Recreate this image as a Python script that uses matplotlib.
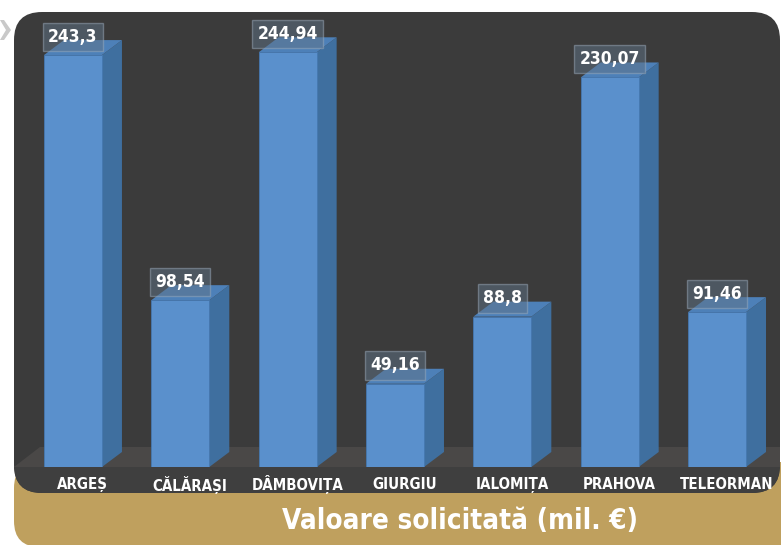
import numpy as np
import matplotlib.pyplot as plt
from matplotlib.patches import FancyBboxPatch, Polygon
from matplotlib import font_manager
import matplotlib.patheffects as pe

# Datele graficului
judete = ["ARGEȘ", "CĂLĂRAȘI", "DÂMBOVIȚA", "GIURGIU", "IALOMIȚA", "PRAHOVA", "TELEORMAN"]
valori = [243.3, 98.54, 244.94, 49.16, 88.8, 230.07, 91.46]
etichete = ["243,3", "98,54", "244,94", "49,16", "88,8", "230,07", "91,46"]
titlu = "Valoare solicitată (mil. €)"


def e_ingust(f):
    if "Mono" in f.name:
        return False
    return ("Narrow" in f.name or "Condensed" in f.name
            or f.stretch in ("condensed", "semi-condensed", "extra-condensed"))


def greutate(f):
    w = f.weight
    if isinstance(w, str):
        w = {"bold": 700, "semibold": 600, "heavy": 800, "black": 900}.get(w, 400)
    return w


# cautam un font ingust, de preferinta bold
ingusti = [f for f in font_manager.fontManager.ttflist if e_ingust(f)]
bold = [f for f in ingusti if greutate(f) >= 600]
ales = bold[0] if bold else (ingusti[0] if ingusti else None)
if ales is not None:
    prop = dict(fname=ales.fname)
    e_bold = greutate(ales) >= 600
else:
    prop = dict(family="DejaVu Sans", weight="bold")
    e_bold = True

# daca nu avem varianta bold, ingrosam cu un contur alb
efect = [] if e_bold else [pe.withStroke(linewidth=0.9, foreground="white")]


def fp(size):
    return font_manager.FontProperties(size=size, **prop)


W, H = 781, 545
fig = plt.figure(figsize=(W / 100, H / 100), dpi=100)
fig.patch.set_facecolor("white")

# fundal decorativ in pixeli
bg = fig.add_axes([0, 0, 1, 1])
bg.set_xlim(0, W)
bg.set_ylim(H, 0)
bg.axis("off")

bg.add_patch(FancyBboxPatch((14, 462), 820, 85, boxstyle="round,pad=0,rounding_size=26",
                            fc="#bfa05e", ec="none"))
panou = FancyBboxPatch((14, 12), 766, 481, boxstyle="round,pad=0,rounding_size=28",
                       fc="#3b3b3b", ec="none")
bg.add_patch(panou)
# podea
p1 = Polygon([(40, 447), (781, 447), (781, 467), (14, 467)], fc="#4a4847", ec="none")
p2 = Polygon([(14, 467), (781, 467), (781, 493), (14, 493)], fc="#3f3f3f", ec="none")
for p in (p1, p2):
    bg.add_patch(p)
    p.set_clip_path(panou)
# sageata mica sus-stanga
bg.add_patch(Polygon([(0, 20), (4, 20), (11, 30), (4, 40), (0, 40), (6, 30)], fc="#c9c9c9", ec="none"))

bg.text(460, 521, titlu, color="white", fontproperties=fp(20),
        ha="center", va="center", path_effects=efect)

# axa barelor: 0 la y=467px, 1.693 px pe unitate
left, right = 19.3, 770.7
ax = fig.add_axes([left / W, (H - 467) / H, (right - left) / W, 440.2 / H])
ax.set_xlim(-0.5, 6.5)
ax.set_ylim(0, 260)
ax.axis("off")

x = np.arange(len(valori))
w = 0.54
dx = 20 / 107.33
dy = 15 / 1.693

ax.bar(x, valori, width=w, color="#5a90cc", edgecolor="#4678b0", linewidth=0.6, zorder=3)
for xi, v, lab in zip(x, valori, etichete):
    x0, x1 = xi - w / 2, xi + w / 2
    ax.add_patch(Polygon([(x1, 0), (x1 + dx, dy), (x1 + dx, v + dy), (x1, v)],
                         fc="#3f6f9f", ec="none", zorder=2, clip_on=False))
    ax.add_patch(Polygon([(x0, v), (x1, v), (x1 + dx, v + dy), (x0 + dx, v + dy)],
                         fc="#4d80b8", ec="none", zorder=2, clip_on=False))
    ax.text(xi, v + 10.8, lab, color="white", fontproperties=fp(12.5),
            ha="center", va="center", zorder=5, clip_on=False, path_effects=efect,
            bbox=dict(boxstyle="square,pad=0.3", fc="#5f7387", ec="#9aaabb",
                      alpha=0.5, lw=1))
    ax.text(xi + 0.09, -10.5, judete[xi], color="white", fontproperties=fp(10.8),
            ha="center", va="center", clip_on=False, zorder=5, path_effects=efect)

fig.savefig("out.png", dpi=100)
